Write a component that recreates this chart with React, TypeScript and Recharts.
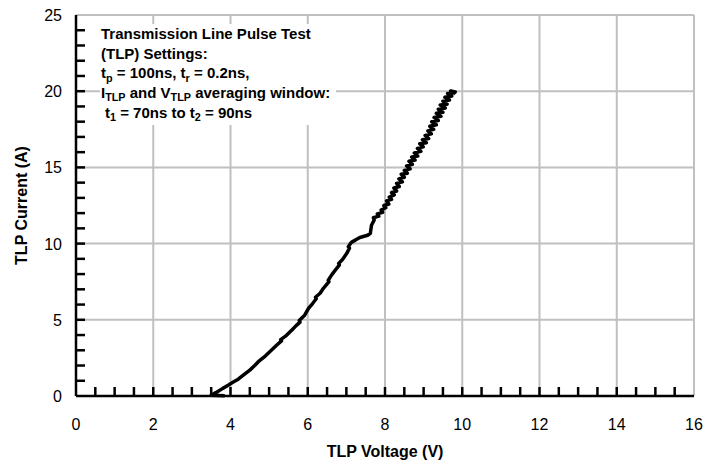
import React from "react";
import { ComposedChart, Line, Scatter, XAxis, YAxis, CartesianGrid } from "recharts";

// TLP I-V curve (voltage in V, current in A)
const voltage = [
  3.85, 3.5, 3.62, 3.8, 3.95, 4.05, 4.2, 4.34, 4.5, 4.62, 4.72, 4.9, 5.05, 5.2, 5.32, 5.3, 5.45,
  5.59, 5.7, 5.8, 5.78, 5.92, 6.02, 6.12, 6.22, 6.2, 6.32, 6.4, 6.55, 6.53, 6.62, 6.75, 6.82,
  6.8, 6.9, 7.01, 7.08, 7.05, 7.12, 7.22, 7.15, 7.35, 7.55, 7.62, 7.65, 7.72, 7.7, 7.84, 7.8,
  7.94, 7.9, 8.02, 7.97, 8.1, 8.04, 8.17, 8.11, 8.24, 8.17, 8.3, 8.23, 8.37, 8.3, 8.45, 8.36,
  8.5, 8.42, 8.58, 8.5, 8.65, 8.56, 8.71, 8.62, 8.78, 8.69, 8.85, 8.76, 8.93, 8.84, 8.99, 8.9,
  9.07, 8.97, 9.13, 9.04, 9.2, 9.11, 9.26, 9.16, 9.33, 9.21, 9.38, 9.27, 9.45, 9.33, 9.5, 9.38,
  9.56, 9.43, 9.61, 9.5, 9.67, 9.55, 9.73, 9.62, 9.78, 9.7, 9.82, 9.76,
];
const current = [
  0.02, 0.05, 0.22, 0.5, 0.72, 0.88, 1.1, 1.38, 1.7, 1.98, 2.25, 2.62, 2.98, 3.35, 3.62, 3.7, 3.98,
  4.33, 4.62, 4.85, 4.95, 5.3, 5.75, 6.05, 6.38, 6.48, 6.74, 7.05, 7.5, 7.6, 7.95, 8.38, 8.6,
  8.7, 8.95, 9.36, 9.7, 9.8, 10.05, 10.2, 10.12, 10.4, 10.55, 10.68, 11.2, 11.55, 11.7, 11.8, 11.95,
  12.05, 12.2, 12.35, 12.5, 12.6, 12.8, 12.9, 13.05, 13.2, 13.35, 13.45, 13.65, 13.75, 13.95, 14.05, 14.25,
  14.35, 14.55, 14.62, 14.8, 14.9, 15.1, 15.2, 15.4, 15.48, 15.68, 15.75, 15.95, 16.05, 16.25, 16.35, 16.55,
  16.62, 16.82, 16.9, 17.1, 17.2, 17.4, 17.5, 17.7, 17.8, 18.0, 18.08, 18.28, 18.35, 18.55, 18.62, 18.82,
  18.9, 19.1, 19.15, 19.35, 19.42, 19.6, 19.68, 19.85, 19.92, 20.02, 19.95, 19.82,
];

const xMajor = [0, 2, 4, 6, 8, 10, 12, 14, 16];
const xMinor = [
  0.5, 1, 1.5, 2, 2.5, 3, 3.5, 4, 4.5, 5, 5.5, 6, 6.5, 7, 7.5, 8, 8.5, 9, 9.5, 10, 10.5, 11,
  11.5, 12, 12.5, 13, 13.5, 14, 14.5, 15, 15.5,
];
const yMajor = [0, 5, 10, 15, 20, 25];
const yMinor = [
  1, 2, 3, 4, 5, 6, 7, 8, 9, 10, 11, 12, 13, 14, 15, 16, 17, 18, 19, 20, 21, 22, 23, 24,
];

const data = voltage.map((v, k) => ({ v, i: current[k] }));
// minor tick positions: along the x axis (i = 0) and along the y axis (v = 0)
const tickPts = [...xMinor.map((v) => ({ v, i: 0 })), ...yMinor.map((i) => ({ v: 0, i }))];

const FONT = '"Liberation Sans", Arial, sans-serif';

const XTick = (props: any) => {
  const { x, y, payload } = props;
  return (
    <text x={x} y={y + 34} textAnchor="middle" fontFamily={FONT} fontSize={16} fill="#000">
      {payload.value}
    </text>
  );
};

const YTick = (props: any) => {
  const { x, y, payload } = props;
  return (
    <text x={x - 14} y={y + 6} textAnchor="end" fontFamily={FONT} fontSize={16} fill="#000">
      {payload.value}
    </text>
  );
};

// inward minor tick mark, placed by the scatter's scaled cx/cy
const Mark = (p: any) => {
  const onX = p.payload && p.payload.i === 0;
  const d = onX ? `M${p.cx},${p.cy}V${p.cy - 9}` : `M${p.cx},${p.cy}H${p.cx + 9}`;
  return <path d={d} stroke="#000" strokeWidth={2.5} fill="none" />;
};

const sub = { fontSize: "0.72em", position: "relative" as const, top: "0.3em", lineHeight: 0 };
const frame = { stroke: "#000", strokeWidth: 2.5 };

export default function App() {
  return (
    <div style={{ position: "absolute", left: 0, top: 0, width: 723, height: 469, background: "#fff" }}>
      <ComposedChart width={723} height={469} data={data} margin={{ top: 15, right: 29, bottom: 0, left: 0 }}>
        <CartesianGrid
          verticalValues={xMajor}
          horizontalValues={yMajor}
          stroke="#c0c0c0"
          strokeWidth={2}
        />
        <XAxis
          type="number"
          dataKey="v"
          domain={[0, 16]}
          ticks={xMajor}
          interval={0}
          tick={<XTick />}
          tickLine={false}
          tickSize={0}
          tickMargin={0}
          axisLine={frame}
          height={73}
          label={{
            value: "TLP Voltage (V)",
            position: "insideBottom",
            offset: 12,
            fontFamily: FONT,
            fontSize: 16,
            fontWeight: "bold",
            fill: "#000",
          }}
        />
        <XAxis
          xAxisId="top"
          orientation="top"
          type="number"
          dataKey="v"
          domain={[0, 16]}
          tick={false}
          tickLine={false}
          axisLine={frame}
          height={0}
        />
        <YAxis
          type="number"
          domain={[0, 25]}
          ticks={yMajor}
          interval={0}
          tick={<YTick />}
          tickLine={false}
          tickSize={0}
          tickMargin={0}
          axisLine={frame}
          width={76}
          label={{
            value: "TLP Current (A)",
            angle: -90,
            position: "insideLeft",
            offset: 21,
            style: { textAnchor: "middle" },
            fontFamily: FONT,
            fontSize: 16,
            fontWeight: "bold",
            fill: "#000",
          }}
        />
        <YAxis
          yAxisId="right"
          orientation="right"
          type="number"
          domain={[0, 25]}
          tick={false}
          tickLine={false}
          axisLine={frame}
          width={0}
        />
        <Line
          type="linear"
          dataKey="i"
          stroke="#000"
          strokeWidth={3.5}
          strokeLinejoin="round"
          dot={false}
          isAnimationActive={false}
        />
        <Scatter data={tickPts} dataKey="i" shape={Mark} isAnimationActive={false} />
      </ComposedChart>
      <div
        style={{
          position: "absolute",
          left: 100,
          top: 24,
          width: 236,
          height: 101,
          background: "#fff",
          fontFamily: FONT,
          fontWeight: "bold",
          fontSize: 15,
          lineHeight: "19.7px",
          color: "#000",
          paddingLeft: 1,
          boxSizing: "border-box",
          whiteSpace: "nowrap",
        }}
      >
        <div>Transmission Line Pulse Test</div>
        <div>(TLP) Settings:</div>
        <div>
          t<span style={sub}>p</span> = 100ns, t<span style={sub}>r</span> = 0.2ns,
        </div>
        <div>
          I<span style={sub}>TLP</span> and V<span style={sub}>TLP</span> averaging window:
        </div>
        <div style={{ paddingLeft: 4 }}>
          t<span style={sub}>1</span> = 70ns to t<span style={sub}>2</span> = 90ns
        </div>
      </div>
    </div>
  );
}
